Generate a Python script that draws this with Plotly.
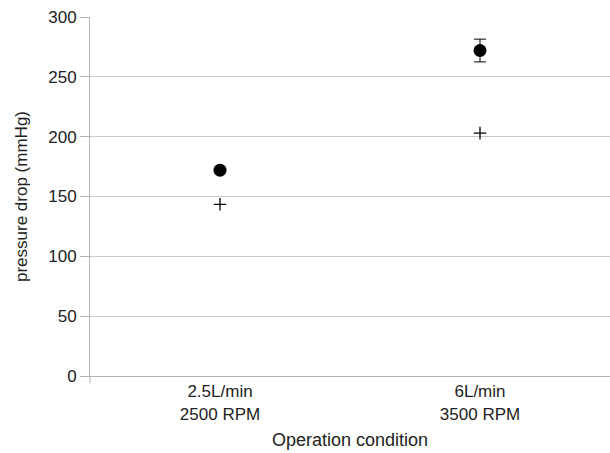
import plotly.graph_objects as go

categories = ["2.5L/min<br>2500 RPM", "6L/min<br>3500 RPM"]
measured = [172, 272]
measured_err = [1, 9.5]
predicted = [143.5, 203]
y_ticks = [0, 50, 100, 150, 200, 250, 300]

font_family = "Liberation Sans, Arial, sans-serif"
txt = "#222222"

fig = go.Figure()
fig.add_trace(go.Scatter(
    x=[0, 1], y=measured, mode="markers",
    marker=dict(symbol="circle", size=13, color="black"),
    error_y=dict(type="data", array=measured_err, color="black", thickness=1, width=6),
    showlegend=False,
))
fig.add_trace(go.Scatter(
    x=[0, 1], y=predicted, mode="markers",
    marker=dict(symbol="cross-thin", size=9, line=dict(color="black", width=1.3)),
    showlegend=False,
))

fig.update_layout(
    width=610, height=453,
    margin=dict(l=90, r=0, t=17, b=77),
    paper_bgcolor="white", plot_bgcolor="white",
    font=dict(family=font_family, size=17, color=txt),
    xaxis=dict(
        range=[-0.5, 1.5], tickmode="array", tickvals=[0, 1], ticktext=categories,
        showgrid=False, showline=True, linecolor="#b3b3b3", linewidth=1,
        ticks="", tickfont=dict(size=17),
        title=dict(text="Operation condition", font=dict(size=18), standoff=10),
        zeroline=False,
    ),
    yaxis=dict(
        range=[0, 300], tickmode="array", tickvals=y_ticks,
        showgrid=True, gridcolor="#c8c8c8", gridwidth=1,
        showline=True, linecolor="#b3b3b3", linewidth=1,
        ticks="outside", ticklen=9, tickcolor="#b3b3b3",
        tickfont=dict(size=17),
        title=dict(text="pressure drop (mmHg)", font=dict(size=17), standoff=16),
        zeroline=False,
    ),
)
fig.add_shape(type="line", xref="paper", yref="paper", x0=0, x1=0, y0=0, y1=-0.02,
              line=dict(color="#b3b3b3", width=1))
fig.write_html("out.html")
